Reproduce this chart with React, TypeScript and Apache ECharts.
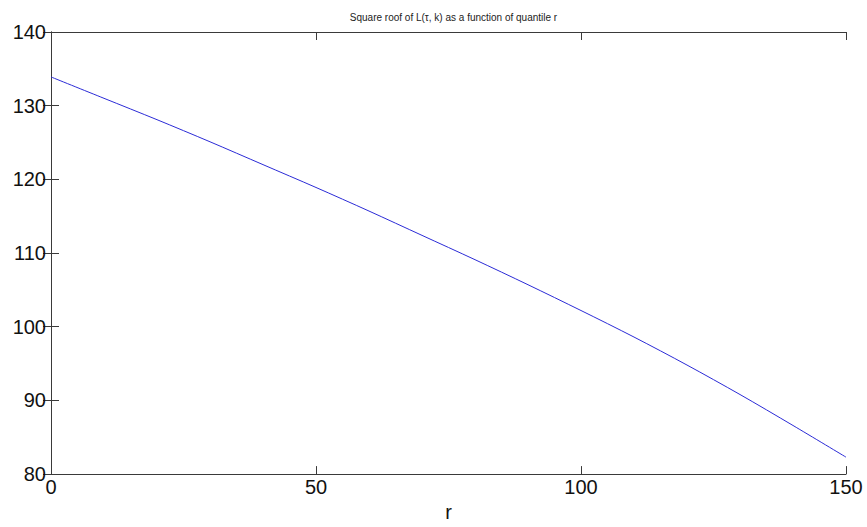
import React, { useEffect, useRef } from "react";
import * as echarts from "echarts";

const titleText = "Square roof of L(\u03c4, k) as a function of quantile r";
const xAxisName = "r";
const rValues = [0, 10, 20, 30, 40, 50, 60, 70, 80, 90, 100, 110, 120, 130, 140, 150];
const sqrtL = [133.9, 131.0, 128.1, 125.1, 122.0, 118.9, 115.7, 112.4, 109.1, 105.7, 102.2, 98.6, 94.8, 90.8, 86.6, 82.3];
const xTicks = [0, 50, 100, 150];
const yTicks = [80, 90, 100, 110, 120, 130, 140];

export default function App() {
  const ref = useRef<HTMLDivElement>(null);
  useEffect(() => {
    if (!ref.current) return;
    const chart = echarts.init(ref.current, undefined, { renderer: "svg" });
    const font = "'Liberation Sans', Arial, sans-serif";
    const axisLine = { show: true, lineStyle: { color: "#3a3a3a", width: 1 } };
    const tick = { show: true, inside: true, length: 8, lineStyle: { color: "#3a3a3a" } };
    chart.setOption({
      animation: false,
      backgroundColor: "#ffffff",
      title: {
        text: titleText,
        left: 448.5,
        textAlign: "center",
        top: 7,
        textStyle: {
          fontFamily: "'Liberation Sans Narrow', 'Arial Narrow', 'Liberation Sans', sans-serif",
          fontSize: 10,
          fontWeight: "normal",
          color: "#222",
        },
      },
      grid: { left: 51, right: 21, top: 32, bottom: 49, containLabel: false },
      xAxis: [
        {
          type: "value",
          min: xTicks[0],
          max: xTicks[xTicks.length - 1],
          interval: 50,
          position: "bottom",
          name: xAxisName,
          nameLocation: "middle",
          nameGap: 22,
          nameTextStyle: { fontFamily: font, fontSize: 20, color: "#111" },
          axisLine,
          axisTick: tick,
          axisLabel: { fontFamily: font, fontSize: 20, color: "#111", margin: 3 },
          splitLine: { show: false },
        },
        {
          type: "value",
          min: xTicks[0],
          max: xTicks[xTicks.length - 1],
          interval: 50,
          position: "top",
          axisLine,
          axisTick: tick,
          axisLabel: { show: false },
          splitLine: { show: false },
        },
      ],
      yAxis: [
        {
          type: "value",
          min: yTicks[0],
          max: yTicks[yTicks.length - 1],
          interval: 10,
          position: "left",
          axisLine,
          axisTick: tick,
          axisLabel: { fontFamily: font, fontSize: 20, color: "#111", margin: 5 },
          splitLine: { show: false },
        },
        {
          type: "value",
          min: yTicks[0],
          max: yTicks[yTicks.length - 1],
          interval: 10,
          position: "right",
          axisLine,
          axisTick: tick,
          axisLabel: { show: false },
          splitLine: { show: false },
        },
      ],
      series: [
        {
          type: "line",
          xAxisIndex: 0,
          yAxisIndex: 0,
          data: rValues.map((r, i) => [r, sqrtL[i]]),
          smooth: 0.3,
          showSymbol: false,
          lineStyle: { color: "#2b2bd6", width: 1 },
        },
      ],
    });
    return () => chart.dispose();
  }, []);
  return (
    <div
      ref={ref}
      style={{ position: "fixed", left: 0, top: 0, width: 867, height: 527, background: "#fff" }}
    />
  );
}
